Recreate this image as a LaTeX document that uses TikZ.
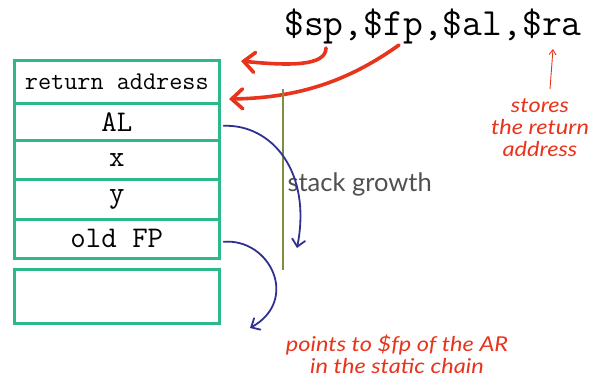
\documentclass[tikz,border=0pt]{standalone}
\usepackage{fontspec}
\setmainfont{Liberation Serif}
\newfontfamily\notefont{Lato Italic}[FakeStretch=1.15]
\newfontfamily\labelfont{Lato}
\usetikzlibrary{arrows.meta}
\definecolor{frametea}{HTML}{2DB88C}
\definecolor{notered}{HTML}{E8341C}
\definecolor{chainblue}{HTML}{2F3190}
\definecolor{growgreen}{HTML}{7F8F3E}
\definecolor{growgray}{HTML}{505050}
\tikzset{
  cell/.style={draw=frametea, line width=2.6pt, minimum width=205pt, inner sep=0pt, anchor=north west, font=\ttfamily\fontsize{30}{30}\selectfont},
  redarrow/.style={draw=notered, line width=3.6pt, line cap=round, -{Straight Barb[length=11pt,width=20pt,line cap=round]}},
  bluearrow/.style={draw=chainblue, line width=1.8pt, line cap=round, -{Straight Barb[length=7pt,width=13pt,line cap=round]}},
  note/.style={text=notered, font=\notefont\fontsize{20.5}{22}\selectfont, align=center}
}
\begin{document}
\begin{tikzpicture}[x=1pt,y=-1pt]
\useasboundingbox (0,0) rectangle (592,376);
% activation record cells
\node[cell, minimum height=43pt, font=\ttfamily\fontsize{25.5}{25.5}\selectfont] (ra) at (13,59) {return address};
\node[cell, minimum height=37pt] (al) at (13,102) {AL};
\node[cell, minimum height=39pt] (xv) at (13,139) {x};
\node[cell, minimum height=40pt] (yv) at (13,178) {y};
\node[cell, minimum height=39pt] (fp) at (13,218) {old FP};
\node[cell, minimum height=54pt] (nx) at (13,268) {};
% register names
\node[font=\ttfamily\fontsize{38.5}{38.5}\selectfont, anchor=base] (regs) at (433,35) {\$sp,\$fp,\$al,\$ra};
\coordinate (spfoot) at (326,48);
\coordinate (fpfoot) at (399,45);
\coordinate (spend) at (241,61);
\coordinate (fpend) at (229,99);
\draw[redarrow] (spfoot) .. controls (326,66) and (290,66) .. (spend);
\draw[redarrow] (fpfoot) .. controls (350,80) and (300,98) .. (fpend);
% note on $ra
\node[note] (stores) at (540,128) {stores\\the return\\address};
\coordinate (rafoot) at (553,49);
\coordinate (stfoot) at (550,89);
\draw[draw=notered, line width=0.9pt, -{Straight Barb[length=5pt,width=7pt]}] (stfoot) -- (rafoot);
% stack growth
\coordinate (gtop) at (283,89);
\coordinate (gbot) at (283,270);
\draw[growgreen, line width=2.2pt] (gbot) -- (gtop);
\node[text=growgray, font=\labelfont\fontsize{25.5}{25.5}\selectfont, anchor=base west] (grow) at (284,191) {stack growth};
% static chain arrows
\coordinate (altip) at (297,248);
\draw[bluearrow] (al.east) ++(3,4) .. controls (272,124) and (312,172) .. (altip);
\coordinate (fptip) at (250,328);
\draw[bluearrow] (fp.east) ++(3,3) .. controls (270,238) and (300,300) .. (fptip);
\node[note] (points) at (397,354) {points to \$fp of the AR\\in the static chain};
\end{tikzpicture}
\end{document}
